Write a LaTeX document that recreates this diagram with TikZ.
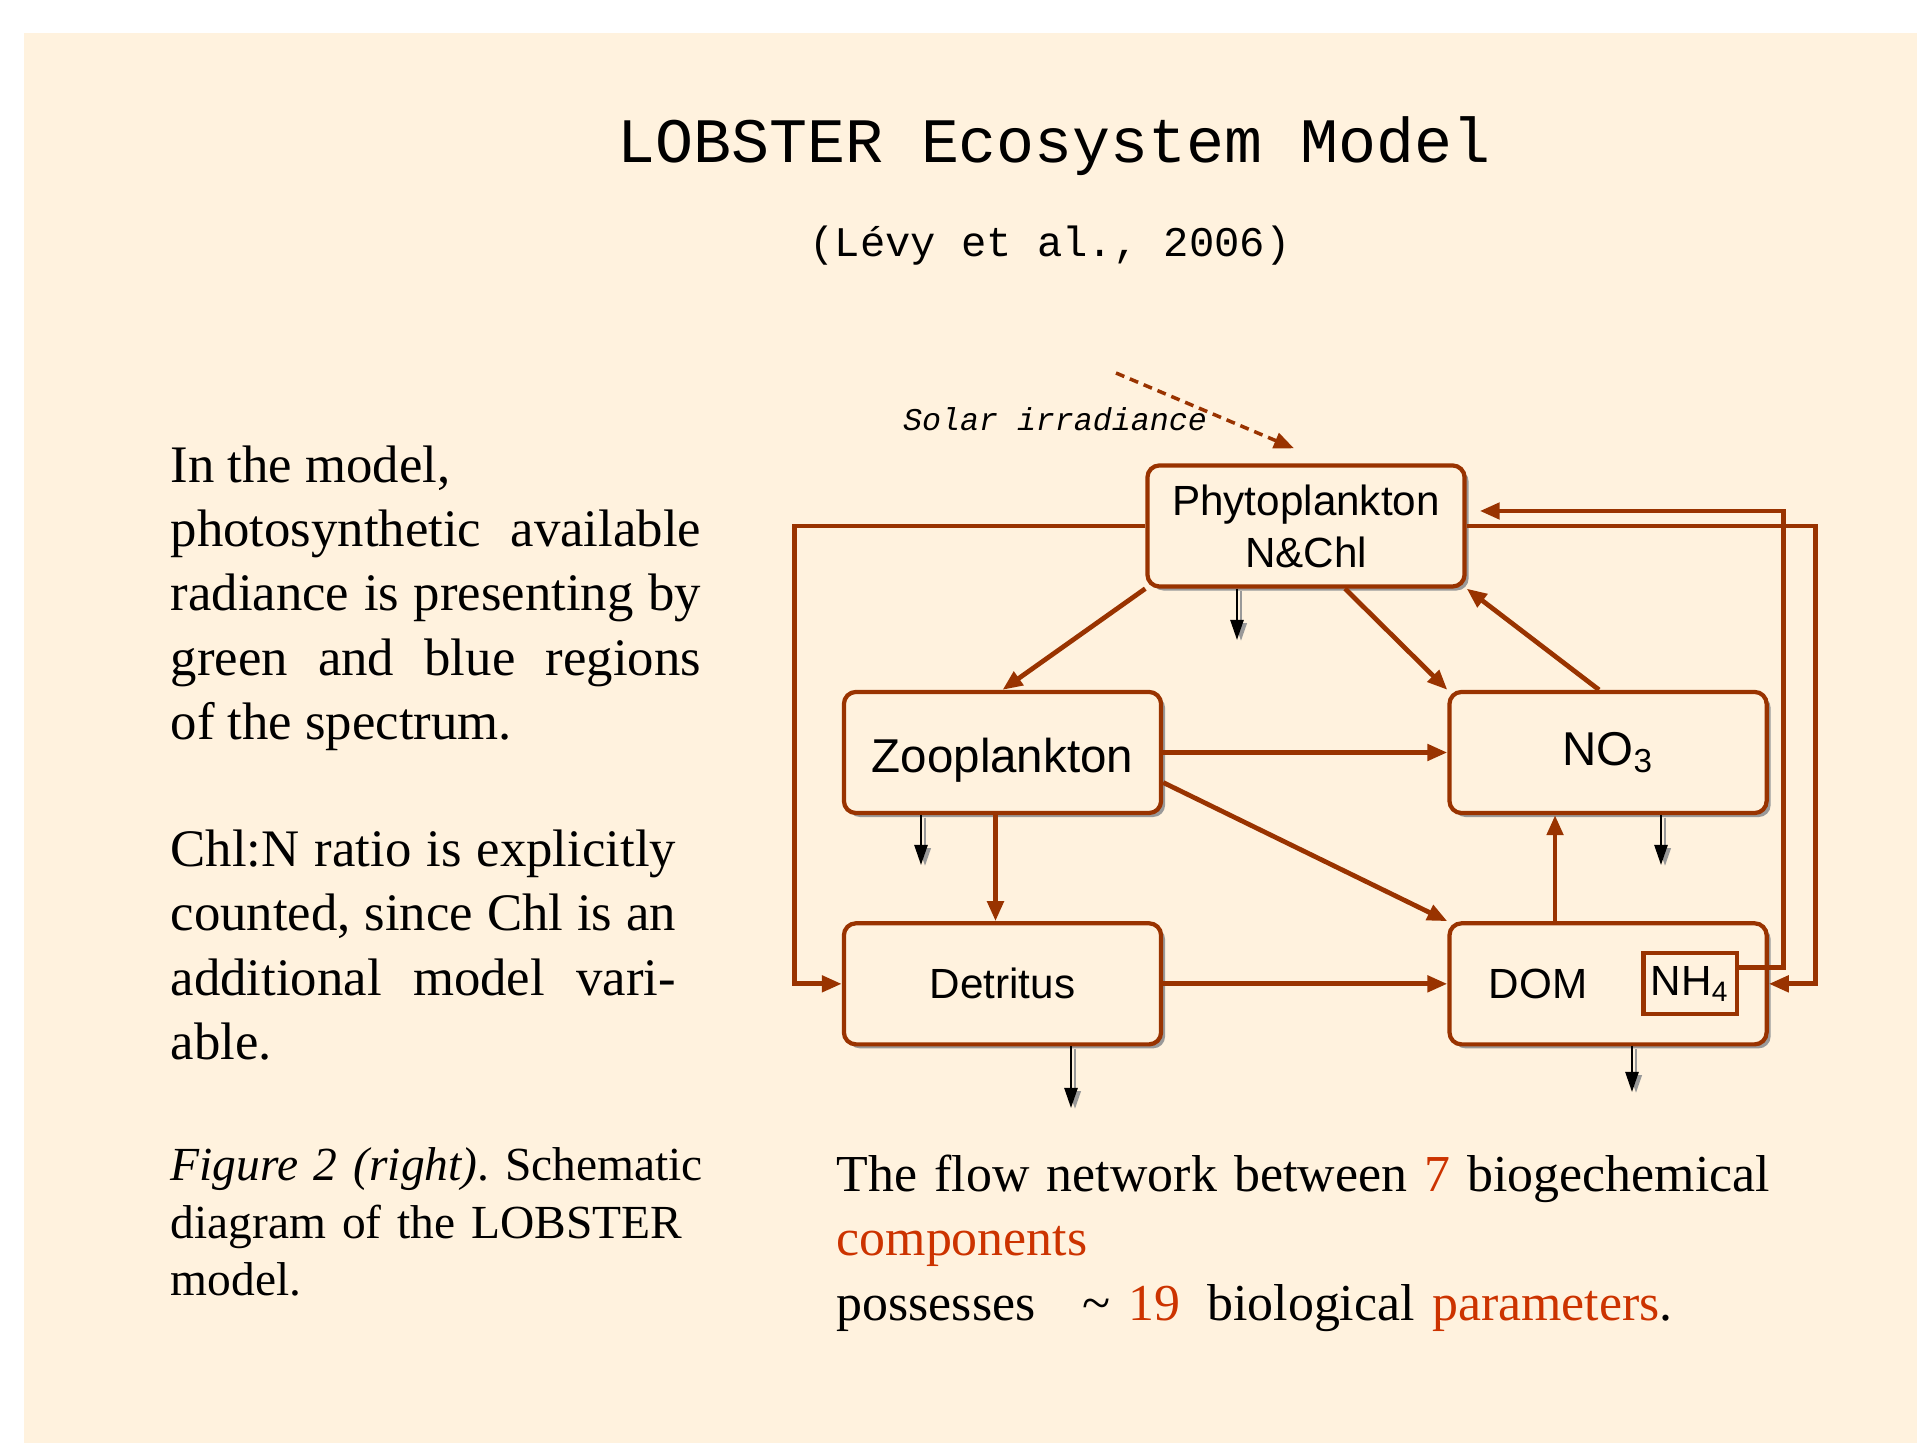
\documentclass[tikz,border=0pt]{standalone}
\usepackage{fontspec}
\setmainfont{Liberation Serif}
\setsansfont{Liberation Sans}
\setmonofont{Liberation Mono}
\usetikzlibrary{positioning,shadows,arrows.meta}
\frenchspacing

\definecolor{cream}{RGB}{255,242,222}
\definecolor{rust}{RGB}{153,51,0}
\definecolor{redtext}{RGB}{204,51,0}

\tikzset{
  pool/.style={draw=rust, line width=1.2pt, rounded corners=0.12cm, fill=cream,
    minimum width=3.17cm, minimum height=1.21cm, inner sep=1pt, align=center,
    font=\sffamily\fontsize{12}{14.8}\selectfont,
    drop shadow={shadow xshift=0.04cm, shadow yshift=-0.04cm, fill=black!40, opacity=1}},
  flow/.style={draw=rust, line width=1.35pt, -{Triangle[length=0.2cm,width=0.16cm]}},
  sink/.style={line width=0.7pt, -{Triangle[length=0.2cm,width=0.13cm]},
    preaction={draw=black!40, -{Triangle[length=0.2cm,width=0.13cm]},
      transform canvas={shift={(0.04cm,-0.025cm)}}}},
  prose/.style={anchor=base west, inner sep=0pt, font=\fontsize{15}{18.2}\selectfont}
}

\begin{document}
\begin{tikzpicture}[x=0.01cm, y=-0.01cm]
  \useasboundingbox (0,0) rectangle (1917,1443);
  \fill [cream] (24,33) rectangle (1917,1443);

  % heading
  \node [anchor=base, font=\ttfamily\fontsize{18}{20}\selectfont] (title) at (1054,163) {LOBSTER Ecosystem Model};
  \node [anchor=base, font=\ttfamily\fontsize{12}{14}\selectfont] (ref) at (1050,257) {(Lévy et al., 2006)};

  % notes on the left
  \node [prose, text width=5.3cm, align=justify] (intro) at (170,483)
    {In the model,\\ photosynthetic available\linebreak radiance is presenting by\linebreak green and blue regions\linebreak of the spectrum.};
  \node [prose, text width=5.05cm, align=justify] (chlnote) at (170,867)
    {Chl:N ratio is explicitly\linebreak counted, since Chl is an\linebreak additional model vari-\linebreak able.};
  \node [prose, font=\fontsize{13.5}{16.3}\selectfont, text width=5.6cm, align=left] (caption) at (170,1181)
    {\textit{Figure 2 (right)}. Schematic\\ diagram of the LOBSTER\\ model.};

  % compartments
  \node [pool] (phyto) at (1306,526) {Phytoplankton\\N\&Chl};
  \node [pool, text height=0.49cm] (zoo) at (1002.5,752.5) {\fontsize{13.5}{16}\selectfont Zooplankton};
  \node [pool, right=2.84cm of zoo] (no3) {\fontsize{13.5}{16}\selectfont NO\textsubscript{3}};
  \node [pool, below=1.06cm of zoo] (det) {Detritus};
  \node [pool, below=1.06cm of no3] (dom) {};
  \node [font=\sffamily\fontsize{12}{14}\selectfont] (domtext) at ([xshift=-0.7cm]dom.center) {DOM};
  \node [draw=rust, line width=1.2pt, minimum width=0.93cm, minimum height=0.61cm, inner sep=0pt,
    font=\sffamily\fontsize{12}{14}\selectfont] (nh4) at ([xshift=0.82cm]dom.center) {NH\textsubscript{4}};

  % light
  \node [anchor=base, font=\ttfamily\itshape\fontsize{9}{11}\selectfont] (sunlabel) at (1055,431) {Solar irradiance};
  \coordinate (sun) at (1116,373);
  \draw [flow, line width=1pt, dash pattern=on 0.09cm off 0.06cm] (sun) -- ([shift={(-12,-15)}]phyto.north);

  % fluxes
  \draw [flow] (phyto.west) -- ++(-351,0) |- (det.west);
  \draw [flow] (phyto.east) -- ++(349,0) |- (dom.east);
  \draw [flow, shorten >=0.13cm] ([yshift=0.16cm]nh4.east) -- ++(45,0) |- ([yshift=0.15cm]phyto.east);
  \draw [flow] (phyto.south west) -- (zoo.north);
  \draw [flow] ([xshift=0.39cm]phyto.south) -- (no3.north west);
  \draw [flow] ([xshift=-0.09cm]no3.north) -- (phyto.south east);
  \draw [flow] (zoo.east) -- (no3.west);
  \draw [flow] ([yshift=-0.3cm]zoo.east) -- (dom.north west);
  \draw [flow] ([xshift=-0.07cm]zoo.south) -- ([xshift=-0.07cm]det.north);
  \draw [flow] (det.east) -- (dom.west);
  \draw [flow] ([xshift=-0.53cm]dom.north) -- ([xshift=-0.53cm]no3.south);

  % sinking
  \coordinate (phytosink) at (1237,640);
  \coordinate (zoosink) at (921,865);
  \coordinate (no3sink) at (1661,865);
  \coordinate (detsink) at (1071,1108);
  \coordinate (domsink) at (1632,1092);
  \draw [sink] (phytosink |- phyto.south) -- (phytosink);
  \draw [sink] (zoosink |- zoo.south) -- (zoosink);
  \draw [sink] (no3sink |- no3.south) -- (no3sink);
  \draw [sink] (detsink |- det.south) -- (detsink);
  \draw [sink] (domsink |- dom.south) -- (domsink);

  % summary
  \node [prose, font=\fontsize{14.75}{18.2}\selectfont, text width=10.5cm, align=left] (flowtext) at (836,1192)
    {The flow network between \textcolor{redtext}{7} biogechemical\\
     \textcolor{redtext}{components}\\
     possesses\hspace{0.3cm} \textasciitilde\ \textcolor{redtext}{19}\hspace{0.1cm} biological \textcolor{redtext}{parameters}.};
\end{tikzpicture}
\end{document}
